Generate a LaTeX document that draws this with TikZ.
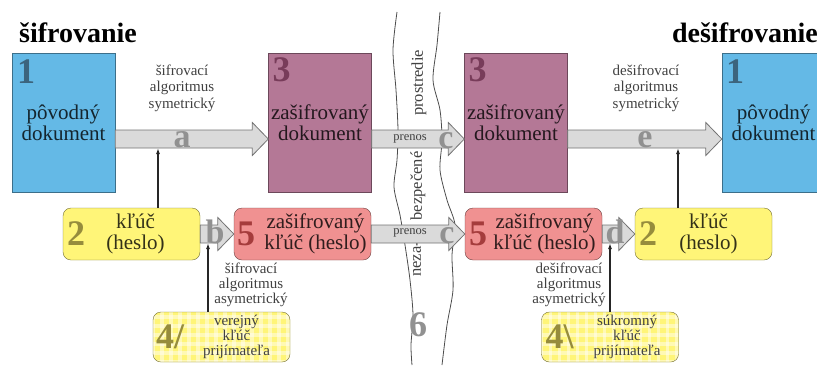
\documentclass[tikz,border=0pt]{standalone}
\usepackage{fontspec}
\setmainfont{Liberation Serif}
\usepackage{xcolor}
\usepackage{tikz}
\usetikzlibrary{arrows.meta, positioning, calc}
\definecolor{docblue}{RGB}{100,185,230}
\definecolor{docmauve}{RGB}{180,120,150}
\definecolor{keypink}{RGB}{240,145,145}
\definecolor{keyyellow}{RGB}{255,245,120}
\definecolor{arrowfill}{RGB}{218,218,218}
\definecolor{arrowline}{RGB}{115,115,115}
\definecolor{lettergray}{RGB}{145,145,145}
\definecolor{numblue}{RGB}{60,100,125}
\definecolor{nummauve}{RGB}{120,60,90}
\definecolor{numred}{RGB}{165,60,60}
\definecolor{numolive}{RGB}{150,140,60}
\tikzset{>=stealth,
  blockarrow/.style={draw=arrowline, fill=arrowfill, line width=0.8pt,
    to path={let \p1=(\tikztostart), \p2=(\tikztotarget) in
      (\x1,\y1+9pt) -- (\x2-16pt,\y1+9pt) -- (\x2-16pt,\y1+16.5pt) -- (\x2,\y1)
      -- (\x2-16pt,\y1-16.5pt) -- (\x2-16pt,\y1-9pt) -- (\x1,\y1-9pt) -- cycle}}}

\begin{document}
\begin{tikzpicture}[x=1pt, y=-1pt, every node/.style={inner sep=0pt},
    docbox/.style={draw=#1!60!black, fill=#1, minimum width=103pt, minimum height=139pt, align=center, font=\fontsize{21}{21}\selectfont, text=#1!20!black},
    keybox/.style={draw=#1!45!black, fill=#1, rounded corners=8pt, minimum width=137pt, minimum height=52pt},
    pubbox/.style={draw=keyyellow!45!black, fill=keyyellow, rounded corners=8pt, minimum width=137pt, minimum height=50pt,
      path picture={
        \foreach \k in {0,9,...,144} {\draw[white, opacity=.45, line width=3.5pt] ([xshift=\k pt]path picture bounding box.south west) -- ++(0pt,55pt);}
        \foreach \k in {0,9,...,54} {\draw[white, opacity=.45, line width=3.5pt] ([yshift=\k pt]path picture bounding box.south west) -- ++(145pt,0pt);}}},
    boxtext/.style={align=center, font=\fontsize{21}{21}\selectfont},
    smalltext/.style={align=center, font=\fontsize{15}{15}\selectfont, text=black!75},
    algtext/.style={align=center, font=\fontsize{15}{16.5}\selectfont, text=black!75},
    bignum/.style={font=\bfseries\fontsize{36}{36}\selectfont, text=#1},
    arrletter/.style={anchor=base, font=\bfseries\fontsize{34}{34}\selectfont, text=lettergray},
    envtext/.style={rotate=90, font=\fontsize{16.5}{16.5}\selectfont, text=black!75},
    keyarrow/.style={-{Latex[length=6pt,width=4pt]}, line width=1.3pt, draw=black!85}]
  \useasboundingbox (0,0) rectangle (817,365);

  \draw[black!70, line width=0.8pt] plot[smooth] coordinates {(397,12) (393,50) (396,90) (398,130) (397,160) (394,187) (400,215) (405,245) (410,280) (413,315) (411,345) (412,365)};
  \draw[black!70, line width=0.8pt] plot[smooth] coordinates {(440,12) (437,45) (433,80) (440,110) (442,140) (440,170) (447,200) (455,225) (452,255) (453,290) (447,325) (442,365)};
  \node[envtext] (envA) at (419,83) {prostredie};
  \node[envtext] (envB) at (418,186) {bezpečené};
  \node[envtext] (envC) at (417,259) {neza-};
  \node[bignum=lettergray] (six) at (418,325) {6};

  \node[font=\bfseries\fontsize{28}{28}\selectfont, anchor=base west] (ttlL) at (19,42) {šifrovanie};
  \node[font=\bfseries\fontsize{28}{28}\selectfont, anchor=base east] (ttlR) at (818,42) {dešifrovanie};

  \node[docbox=docblue] (src) at (63.5,122.5) {pôvodný\\dokument};
  \node[docbox=docmauve] (enc) at (320,122.5) {zašifrovaný\\dokument};
  \node[docbox=docmauve] (encR) at (516,122.5) {zašifrovaný\\dokument};
  \node[docbox=docblue] (dst) at (773.5,122.5) {pôvodný\\dokument};
  \node[bignum=numblue, anchor=north west] at ([xshift=5pt,yshift=-7pt]src.north west) {1};
  \node[bignum=nummauve, anchor=north west] at ([xshift=4pt,yshift=-5pt]enc.north west) {3};
  \node[bignum=nummauve, anchor=north west] at ([xshift=4pt,yshift=-5pt]encR.north west) {3};
  \node[bignum=numblue, anchor=north west] at ([xshift=4pt,yshift=-7pt]dst.north west) {1};

  \node[keybox=keyyellow] (keyL) at (131.5,234) {};
  \node[keybox=keypink] (ekeyL) at (302.5,234) {};
  \node[keybox=keypink] (ekeyR) at (533.5,234) {};
  \node[keybox=keyyellow] (keyR) at (703.5,234) {};
  \node[pubbox] (pub) at (221.5,337) {};
  \node[pubbox] (priv) at (610,337) {};

  \node[boxtext, text=keyyellow!20!black] at ([xshift=4pt]keyL) {kľúč\\(heslo)};
  \node[boxtext, text=keypink!20!black] at ([xshift=13pt]ekeyL) {zašifrovaný\\kľúč (heslo)};
  \node[boxtext, text=keypink!20!black] at ([xshift=11pt]ekeyR) {zašifrovaný\\kľúč (heslo)};
  \node[boxtext, text=keyyellow!20!black] at ([xshift=5pt]keyR) {kľúč\\(heslo)};
  \node[smalltext] at ([xshift=15pt]pub) {verejný\\kľúč\\prijímateľa};
  \node[smalltext] at ([xshift=17pt]priv) {súkromný\\kľúč\\prijímateľa};
  \node[bignum=numolive, anchor=west] at ([xshift=4pt]keyL.west) {2};
  \node[bignum=numred, anchor=west] at ([xshift=3pt]ekeyL.west) {5};
  \node[bignum=numred, anchor=west] at ([xshift=4pt]ekeyR.west) {5};
  \node[bignum=numolive, anchor=west] at ([xshift=4pt]keyR.west) {2};
  \node[bignum=numolive, anchor=west] at ([xshift=3pt]pub.west) {4/};
  \node[bignum=numolive, anchor=west] at ([xshift=4pt]priv.west) {4\textbackslash};

  \coordinate (rowA) at (0,139);
  \draw[blockarrow] (src.east |- rowA) to (enc.west |- rowA);
  \draw[blockarrow] (enc.east |- rowA) to (encR.west |- rowA);
  \draw[blockarrow] (encR.east |- rowA) to (dst.west |- rowA);
  \draw[blockarrow] (keyL.east) to (ekeyL.west);
  \draw[blockarrow] (ekeyL.east) to (ekeyR.west);
  \draw[blockarrow] (ekeyR.east) to (keyR.west);

  \node[arrletter] (la) at (182,147) {a};
  \node[arrletter] (lb) at (215,243) {b};
  \node[arrletter] (lc) at (446,148) {c};
  \node[arrletter] (lc2) at (447,243) {c};
  \node[arrletter] (ld) at (615,243) {d};
  \node[arrletter] (le) at (645,147) {e};
  \node[font=\fontsize{12.5}{12.5}\selectfont, text=black!75] (tr1) at (410,139) {prenos};
  \node[font=\fontsize{12.5}{12.5}\selectfont, text=black!75] (tr2) at (410,233) {prenos};

  \node[algtext] (symL) at (182,88) {šifrovací\\algoritmus\\symetrický};
  \node[algtext] (symR) at (646,88) {dešifrovací\\algoritmus\\symetrický};
  \node[smalltext] (asymL) at (251,285) {šifrovací\\algoritmus\\asymetrický};
  \node[smalltext] (asymR) at (569,285) {dešifrovací\\algoritmus\\asymetrický};

  \coordinate (aIn) at (158,148);
  \coordinate (eIn) at (678,148);
  \coordinate (bIn) at (208,243);
  \coordinate (dIn) at (610,243);
  \draw[keyarrow] (keyL.north -| aIn) -- (aIn);
  \draw[keyarrow] (keyR.north -| eIn) -- (eIn);
  \draw[keyarrow] (pub.north -| bIn) -- (bIn);
  \draw[keyarrow] (priv.north -| dIn) -- (dIn);
\end{tikzpicture}
\end{document}
